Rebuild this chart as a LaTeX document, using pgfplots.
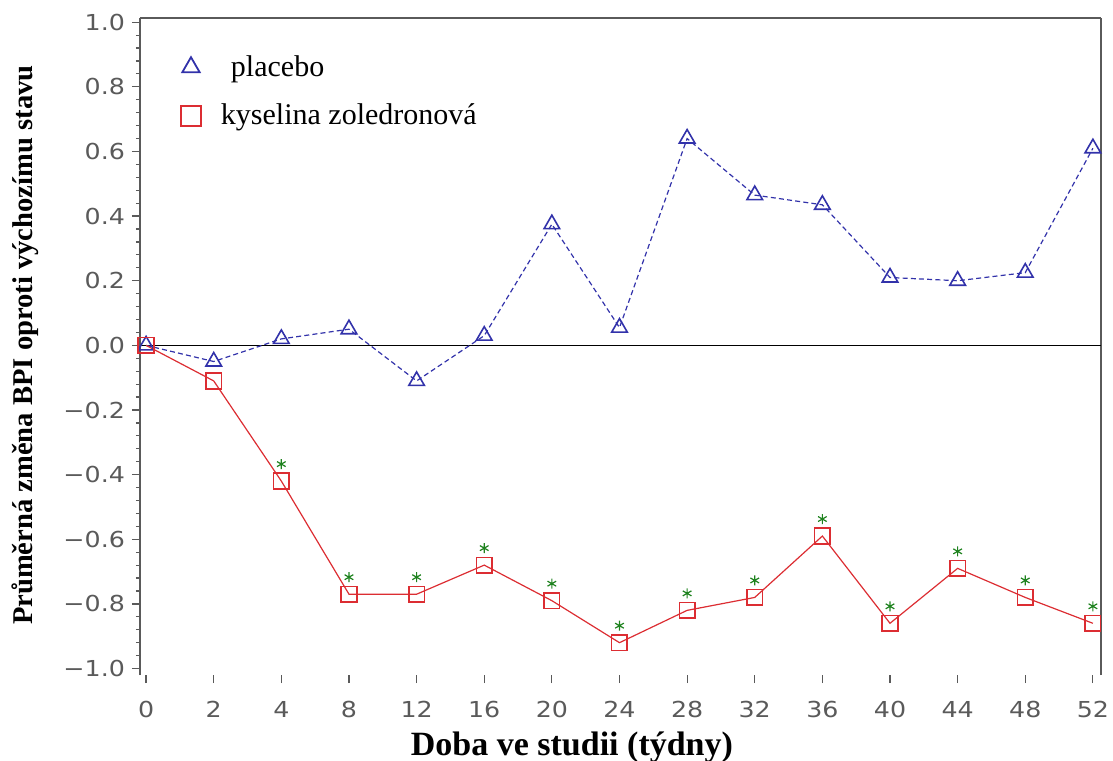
\documentclass[border=0pt]{standalone}
\usepackage{pgfplots}
\pgfplotsset{compat=1.18}
\usepackage{fontspec}
\setmainfont{Liberation Serif}
\newfontfamily\tickfont[FakeStretch=1.15]{DejaVu Sans}
\definecolor{pblue}{RGB}{50,50,170}
\definecolor{zred}{RGB}{220,45,50}
\definecolor{sgreen}{RGB}{30,130,30}
\definecolor{axgray}{RGB}{90,90,90}
\begin{document}
\begin{tikzpicture}
\useasboundingbox (-70pt,-42.5pt) rectangle (486.5pt,337.5pt);
\begin{axis}[
  scale only axis, width=480.5pt, height=328.5pt,
  xmin=-0.09, xmax=14.12, ymin=-1.02, ymax=1.013,
  xtick={0,...,14},
  xticklabels={0,2,4,8,12,16,20,24,28,32,36,40,44,48,52},
  ytick={-1,-0.8,-0.6,-0.4,-0.2,0,0.2,0.4,0.6,0.8,1},
  yticklabels={−1.0,−0.8,−0.6,−0.4,−0.2,0.0,0.2,0.4,0.6,0.8,1.0},
  minor y tick num=4,
  tick label style={font=\tickfont\fontsize{11}{13}\selectfont, text=axgray},
  xticklabel style={yshift=-5.5pt},
  tick align=outside, xtick pos=bottom, ytick pos=left,
  major tick length=4pt, minor tick length=2pt,
  tick style={axgray, line width=0.6pt},
  separate axis lines,
  x axis line style={draw=none},
  y axis line style={axgray, line width=0.9pt},
  xlabel={\bfseries Doba ve studii (týdny)},
  ylabel={\bfseries Průměrná změna BPI oproti výchozímu stavu},
  every axis x label/.style={at={(axis description cs:0.4495,-0.11)}, anchor=center, font=\fontsize{17}{19}\selectfont},
  every axis y label/.style={at={(axis description cs:-0.1197,0.502)}, rotate=90, anchor=center, font=\fontsize{14.3}{16}\selectfont},
  legend style={at={(axis description cs:0.036,0.956)}, anchor=north west, draw=none, fill=none,
    font=\fontsize{15}{17}\selectfont, row sep=8.5pt},
  legend cell align=left,
  clip=false,
]
\draw[axgray, line width=0.9pt] (rel axis cs:0,1) -- (rel axis cs:1,1);
\addlegendimage{only marks, mark=triangle, pblue, mark size=5pt, mark options={line width=0.9pt}}
\addlegendentry{\hspace{13pt}placebo}
\addlegendimage{only marks, mark=square, zred, mark size=5pt, mark options={line width=1.1pt}}
\addlegendentry{\hspace{8pt}kyselina zoledronová}
\addplot[black, line width=0.6pt, forget plot] coordinates {(-0.09,0) (14.12,0)};
\addplot[pblue, dash pattern=on 2.5pt off 1.6pt, line width=0.6pt, mark=triangle, mark size=4.5pt, mark options={solid, line width=0.8pt}, forget plot] coordinates {
(0,0.00) (1,-0.05) (2,0.02) (3,0.05) (4,-0.11) (5,0.03) (6,0.375) (7,0.055)
(8,0.64) (9,0.465) (10,0.435) (11,0.21) (12,0.20) (13,0.225) (14,0.61)};
\addplot[zred, line width=0.6pt, mark=square, mark size=3.9pt, mark options={line width=0.8pt}, forget plot] coordinates {
(0,0.00) (1,-0.11) (2,-0.42) (3,-0.77) (4,-0.77) (5,-0.68) (6,-0.79) (7,-0.92)
(8,-0.82) (9,-0.78) (10,-0.59) (11,-0.86) (12,-0.69) (13,-0.78) (14,-0.86)};
\addplot[only marks, sgreen, mark=asterisk, mark size=2.5pt, mark options={yshift=8.5pt, line width=0.6pt}, forget plot] coordinates {
(2,-0.42) (3,-0.77) (4,-0.77) (5,-0.68) (6,-0.79) (7,-0.92)
(8,-0.82) (9,-0.78) (10,-0.59) (11,-0.86) (12,-0.69) (13,-0.78) (14,-0.86)};
\end{axis}
\end{tikzpicture}
\end{document}
